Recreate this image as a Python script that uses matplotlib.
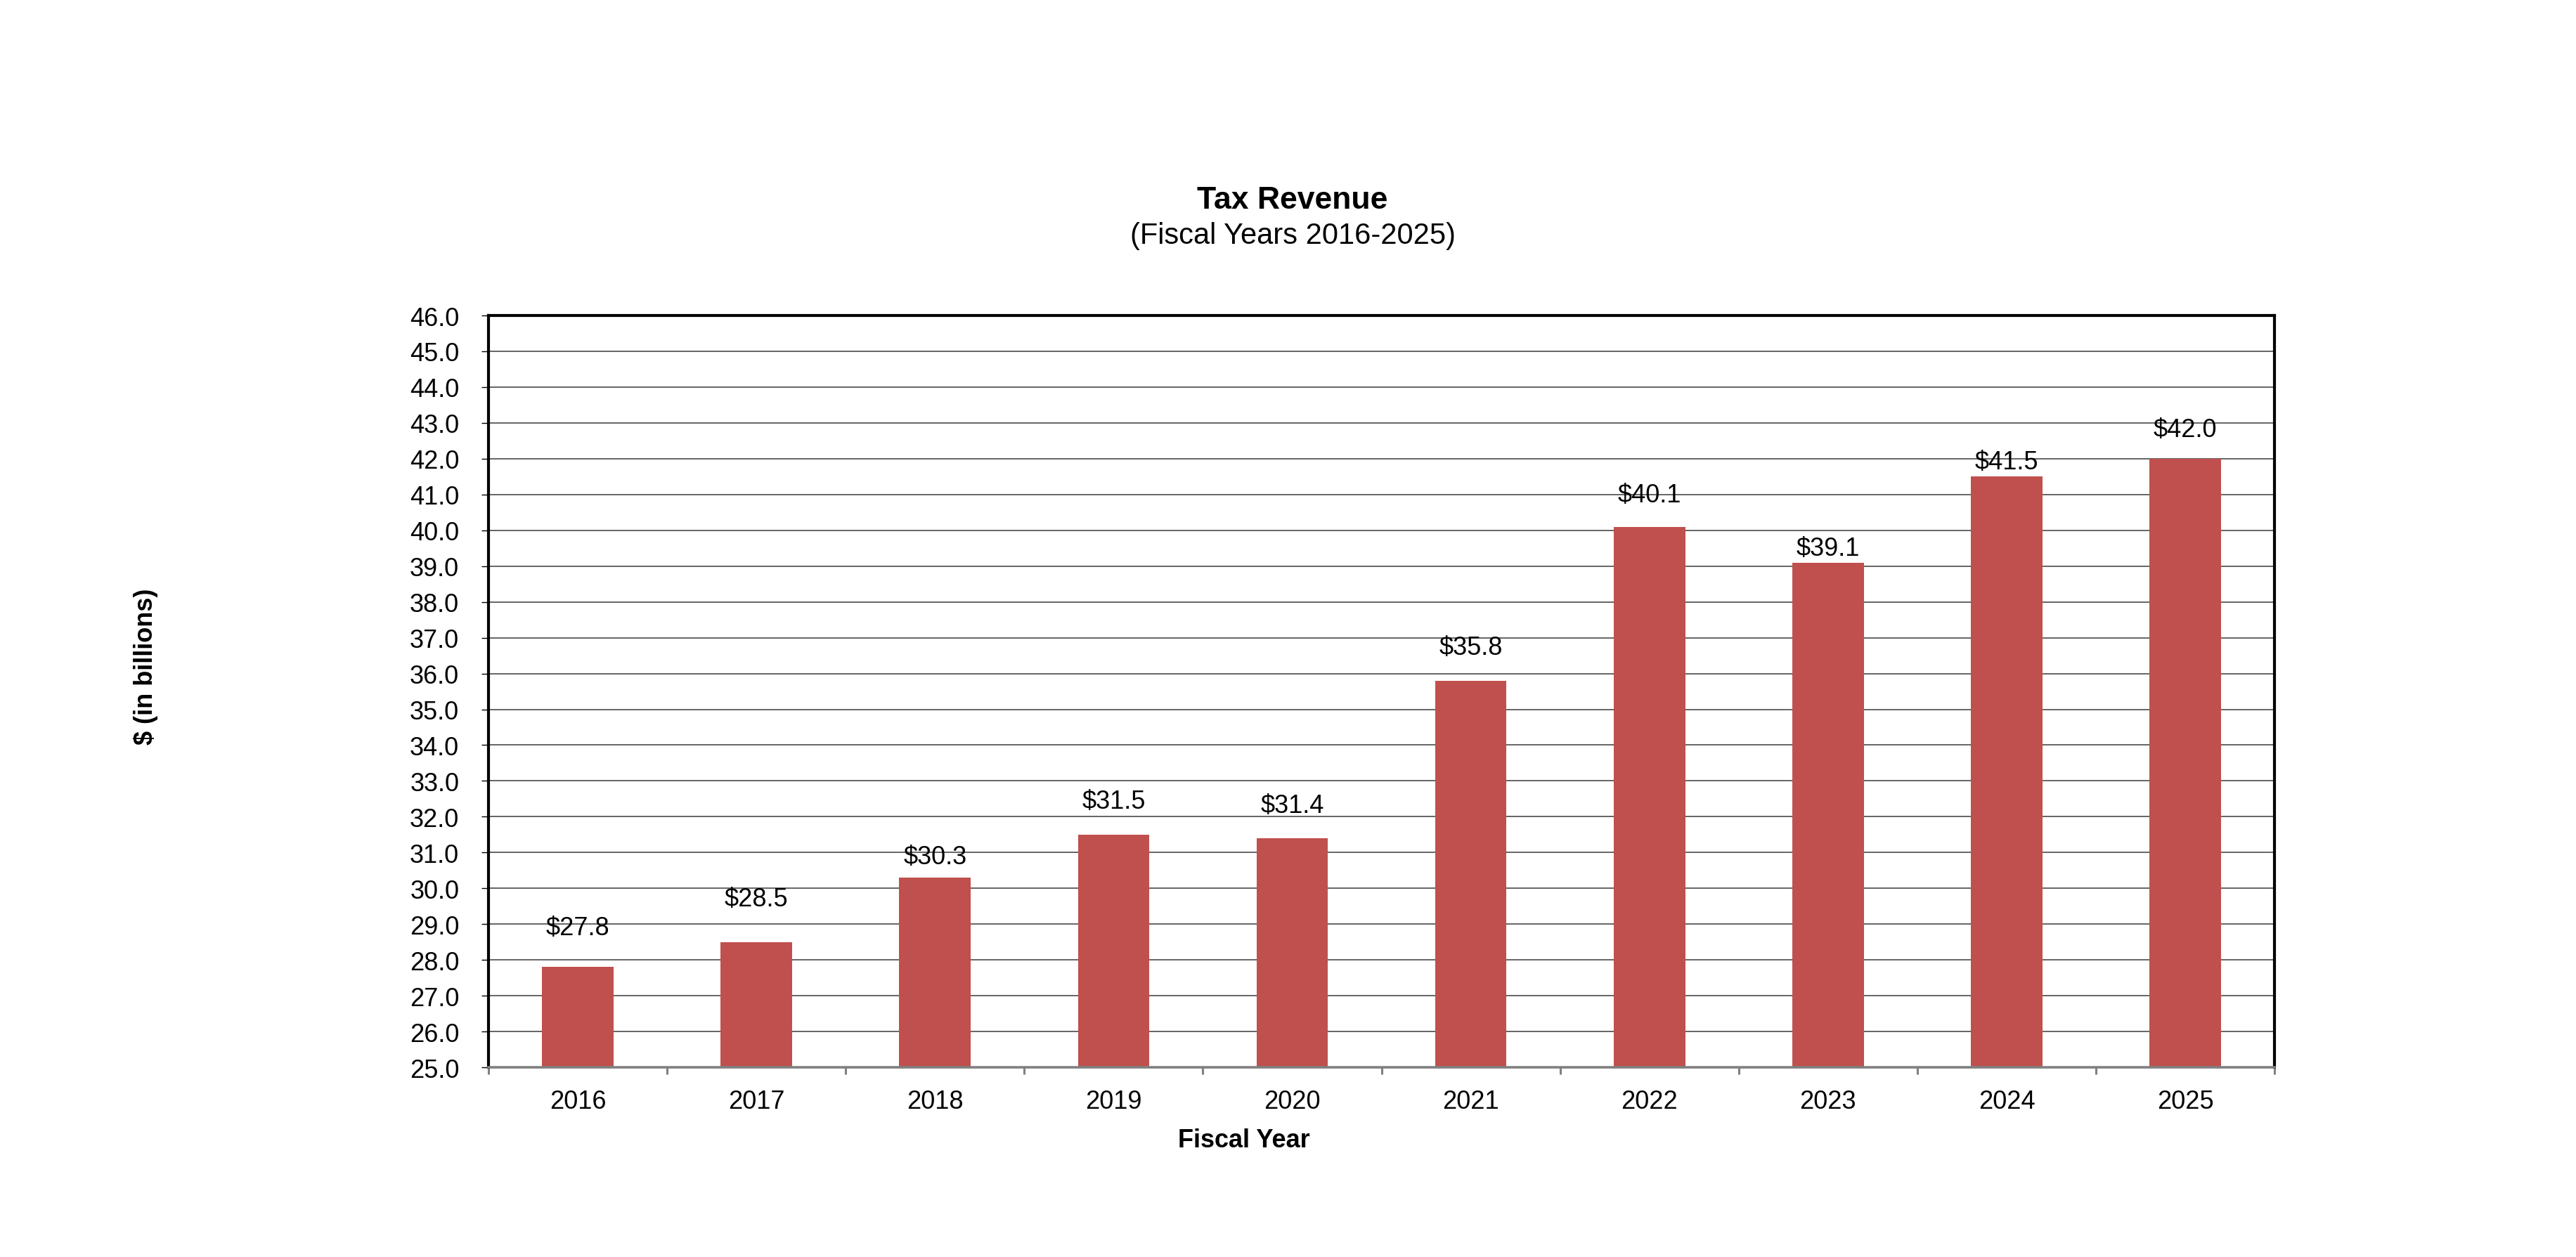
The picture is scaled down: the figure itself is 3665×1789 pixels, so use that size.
import matplotlib
matplotlib.use("Agg")
import matplotlib.pyplot as plt
import numpy as np
from matplotlib.ticker import MultipleLocator, FormatStrFormatter, FixedLocator

plt.rcParams['font.family'] = ['Liberation Sans', 'DejaVu Sans']

# data
years = ['2016', '2017', '2018', '2019', '2020', '2021', '2022', '2023', '2024', '2025']
revenue = [27.8, 28.5, 30.3, 31.5, 31.4, 35.8, 40.1, 39.1, 41.5, 42.0]

# how far above each bar its label sits (data units), labels are hand placed
label_lift = [1.1, 1.2, 0.58, 0.92, 0.92, 0.92, 0.88, 0.4, 0.4, 0.82]

bar_color = '#C0504D'


def plot_revenue(years, revenue):
    fig = plt.figure(figsize=(36.65, 17.9), dpi=100)
    ax = fig.add_axes([0.1896, 0.1508, 0.8830 - 0.1896, 0.7486 - 0.1508])

    index = np.arange(len(years))
    ax.bar(index, np.array(revenue) - 25.0, bottom=25.0, width=0.4,
           color=bar_color, zorder=3)

    ax.set_xlim(-0.5, len(years) - 0.5)
    ax.set_ylim(25.0, 46.0)

    ax.yaxis.set_major_locator(MultipleLocator(1.0))
    ax.yaxis.set_major_formatter(FormatStrFormatter('%.1f'))
    ax.grid(axis='y', color='#4a4a4a', linewidth=1.2, zorder=0)

    ax.set_xticks(index)
    ax.set_xticklabels(years)
    ax.xaxis.set_minor_locator(FixedLocator(np.arange(len(years) + 1) - 0.5))
    ax.tick_params(axis='x', which='major', length=0, pad=22, labelsize=26)
    ax.tick_params(axis='x', which='minor', length=7, width=2.2, color='#808080')
    ax.tick_params(axis='y', which='major', length=7, width=1.0, color='black',
                   pad=23, labelsize=26)

    for side in ['left', 'top', 'right']:
        ax.spines[side].set_linewidth(3.0)
        ax.spines[side].set_color('black')
    ax.spines['bottom'].set_linewidth(2.6)
    ax.spines['bottom'].set_color('#808080')
    ax.spines['bottom'].set_zorder(4)

    for i in range(len(years)):
        ax.text(index[i], revenue[i] + label_lift[i], f'${revenue[i]:.1f}',
                ha='center', va='center', fontsize=26, zorder=5)

    fig.text(0.5018, 0.8341, 'Tax Revenue', ha='center', va='baseline',
             fontsize=32, fontweight='bold')
    fig.text(0.5018, 0.8061, '(Fiscal Years 2016-2025)', ha='center',
             va='baseline', fontsize=30)
    fig.text(0.4829, 0.0877, 'Fiscal Year', ha='center', va='baseline',
             fontsize=26, fontweight='bold')
    fig.text(0.0565, 0.470, '$ (in billions)', ha='center', va='center',
             rotation=90, fontsize=26, fontweight='bold')

    return fig


if __name__ == '__main__':
    fig = plot_revenue(years, revenue)
    fig.savefig('out.png', dpi=100, facecolor='white')
